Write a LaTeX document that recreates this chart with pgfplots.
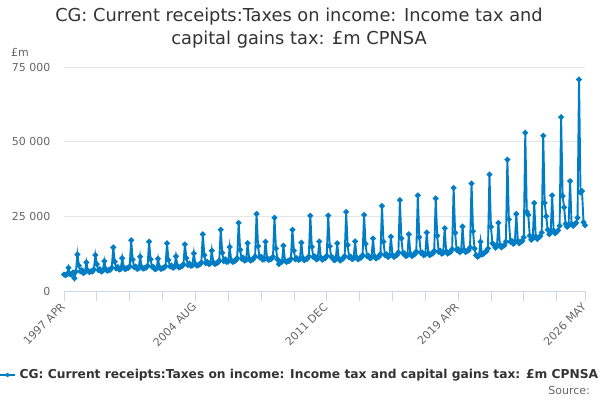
\documentclass[border=0pt]{standalone}
\usepackage{fontspec}
\setmainfont{DejaVu Sans}
\usepackage{pgfplots}
\usepackage{pgfplotstable}
\pgfplotsset{compat=1.18}
\definecolor{onsblue}{HTML}{007DC4}
\definecolor{gridc}{HTML}{E6E6E6}
\definecolor{axisc}{HTML}{CCD6EB}
\definecolor{txt}{HTML}{333333}
\definecolor{tick}{HTML}{666666}
\pgfplotstableread[row sep=\\]{
v\\
5500\\5300\\5600\\7800\\5600\\5500\\6200\\4300\\6500\\12200\\8500\\6600\\
7000\\6000\\6300\\9600\\6800\\6300\\6600\\6500\\7200\\12000\\9000\\7000\\
7300\\6500\\6800\\10000\\7300\\6800\\7000\\7100\\7800\\14600\\9800\\7500\\
8000\\7200\\7400\\11000\\7900\\7300\\7600\\7700\\8300\\17000\\10500\\8000\\
8200\\7400\\7600\\11500\\8000\\7500\\7700\\7800\\8400\\16500\\10600\\8100\\
8000\\7300\\7500\\10800\\7900\\7400\\7600\\7800\\8300\\16000\\10400\\8200\\
8500\\7800\\8000\\11600\\8400\\7900\\8100\\8300\\8900\\15600\\11000\\8700\\
9200\\8400\\8600\\12600\\9000\\8500\\8700\\8900\\9600\\19000\\12000\\9300\\
9800\\9000\\9200\\13500\\9600\\9000\\9300\\9500\\10200\\20500\\12800\\10000\\
10600\\9700\\9900\\14700\\10300\\9700\\10000\\10200\\11000\\22800\\13800\\10800\\
11200\\10200\\10400\\16000\\10800\\10200\\10500\\10800\\11600\\25800\\15000\\11300\\
11500\\10500\\10600\\16500\\11000\\10400\\10600\\10800\\11500\\24500\\14200\\10600\\
9000\\9600\\9800\\15200\\10200\\9700\\10000\\10100\\10800\\20500\\13500\\10600\\
11000\\10400\\10600\\16200\\11000\\10300\\10600\\10800\\11600\\25200\\14800\\11400\\
11600\\10600\\10800\\16600\\11200\\10500\\10800\\11000\\11800\\25300\\15000\\11400\\
11200\\10300\\10500\\16000\\10900\\10200\\10600\\10900\\11700\\26500\\15400\\11300\\
11500\\10700\\10900\\16600\\11300\\10600\\11000\\11200\\12000\\25500\\15800\\11600\\
11800\\11000\\11200\\17600\\11600\\10900\\11300\\11500\\12400\\28500\\16500\\12000\\
12300\\11400\\11700\\18200\\12100\\11400\\11800\\12000\\12900\\30400\\17600\\12600\\
12600\\11700\\11900\\19000\\12400\\11700\\12100\\12300\\13200\\32000\\18000\\12800\\
12900\\12000\\12200\\19600\\12700\\12000\\12400\\12600\\13500\\31000\\18500\\13100\\
13500\\12500\\12800\\21000\\13300\\12500\\12900\\13100\\14000\\34500\\19500\\13800\\
14000\\13000\\13300\\21600\\13800\\13000\\13400\\13600\\14600\\36000\\20000\\14200\\
12000\\11500\\11800\\16500\\12200\\12500\\13000\\13300\\14200\\39000\\21500\\16000\\
15500\\14500\\15000\\22800\\15400\\14600\\15000\\15300\\16500\\44000\\24000\\16500\\
16800\\15800\\16200\\25800\\16800\\16000\\16400\\16800\\18000\\53000\\26500\\25500\\
18500\\17200\\17600\\29500\\18200\\17400\\17900\\18300\\19600\\52000\\29500\\25000\\
20500\\19000\\19500\\32000\\20200\\19300\\19800\\20300\\21800\\58200\\31800\\28000\\
22500\\21500\\22000\\36800\\22500\\21800\\22300\\22800\\24500\\70800\\33000\\33500\\
23000\\22000\\
}\ons
\begin{document}
\begin{tikzpicture}
\useasboundingbox (0pt,0pt) rectangle (600pt,400pt);
\begin{axis}[
  at={(64pt,109pt)}, anchor=south west,
  scale only axis, width=521pt, height=224pt,
  xmin=0, xmax=349, ymin=0, ymax=75000,
  clip=false,
  scaled y ticks=false,
  axis x line*=bottom, axis y line*=left,
  x axis line style={draw=axisc, line width=0.8pt},
  y axis line style={draw=none},
  tick align=outside,
  major tick length=10pt,
  xtick={0,22,44,66,88,110,132,154,176,198,220,242,264,286,308,330,349},
  xticklabels={1997 APR,,,,2004 AUG,,,,2011 DEC,,,,2019 APR,,,,2026 MAY},
  xtick style={draw=axisc, line width=0.8pt},
  ytick={0,25000,50000,75000},
  yticklabels={0,25 000,50 000,75 000},
  ytick style={draw=none},
  ymajorgrids, grid style={draw=gridc, line width=0.8pt},
  xticklabel style={rotate=45, anchor=east, font=\fontsize{11}{13}\selectfont, text=tick, yshift=-2pt},
  yticklabel style={font=\fontsize{11}{13}\selectfont, text=tick},
]
\addplot[color=onsblue, line width=1.9pt, mark=*, mark size=1.8pt] table[x expr=\coordindex, y=v] {\ons};
\end{axis}
\node[font=\fontsize{17.8}{23}\selectfont, text=txt, align=center] at (299pt,371.5pt) {CG: Current receipts:Taxes on income: Income tax and\\capital gains tax: £m CPNSA};
\node[font=\fontsize{11}{13}\selectfont, text=tick, anchor=west, inner sep=0pt] at (11pt,348pt) {£m};
\draw[onsblue, line width=1.9pt] (0pt,25pt) -- (15pt,25pt);
\fill[onsblue] (7.5pt,25pt) circle (2pt);
\node[font=\fontsize{12.25}{14}\selectfont\bfseries, text=txt, anchor=west, inner sep=0pt] at (19.5pt,25pt) {CG: Current receipts:Taxes on income: Income tax and capital gains tax: £m CPNSA};
\node[font=\fontsize{11}{13}\selectfont, text=tick, anchor=east, inner sep=0pt] at (590pt,10pt) {Source:};
\end{tikzpicture}
\end{document}
